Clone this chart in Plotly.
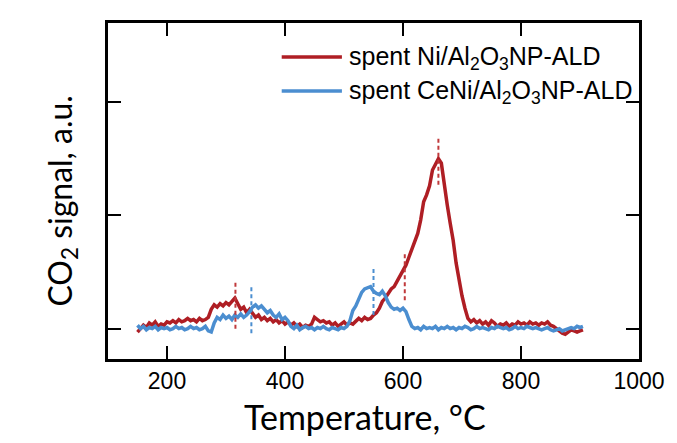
import plotly.graph_objects as go

temperature = list(range(150, 910, 5))

ni_signal = [
    -0.03, 0.00, 0.03, 0.01, 0.05, 0.03, 0.06, 0.02, 0.04, 0.03,
    0.06, 0.05, 0.07, 0.05, 0.08, 0.06, 0.07, 0.09, 0.07, 0.08,
    0.06, 0.09, 0.07, 0.08, 0.10, 0.17, 0.21, 0.19, 0.22, 0.20,
    0.23, 0.21, 0.24, 0.27, 0.22, 0.17, 0.19, 0.14, 0.17, 0.13,
    0.10, 0.12, 0.08, 0.10, 0.07, 0.09, 0.06, 0.08, 0.05, 0.07,
    0.04, 0.06, 0.03, 0.05, 0.02, 0.04, 0.01, 0.03, 0.02, 0.04,
    0.10, 0.08, 0.06, 0.07, 0.05, 0.06, 0.03, 0.05, 0.02, 0.04,
    0.06, 0.03, 0.05, 0.04, 0.07, 0.09, 0.07, 0.10, 0.08, 0.09,
    0.12, 0.14, 0.18, 0.24, 0.27, 0.31, 0.35, 0.37, 0.42, 0.46,
    0.51, 0.56, 0.63, 0.70, 0.76, 0.84, 0.96, 1.12, 1.18, 1.26,
    1.40, 1.45, 1.50, 1.46, 1.25, 1.09, 0.93, 0.78, 0.58, 0.41,
    0.29, 0.18, 0.09, 0.06, 0.08, 0.05, 0.07, 0.04, 0.06, 0.03,
    0.07, 0.05, 0.02, 0.04, 0.03, 0.05, 0.02, 0.04, 0.03, 0.06,
    0.04, 0.05, 0.03, 0.06, 0.04, 0.05, 0.03, 0.05, 0.04, 0.06,
    0.03, 0.02, 0.00, -0.02, -0.04, -0.05, -0.03, -0.01, -0.02, -0.03,
    -0.02, -0.01,
]

ceni_signal = [
    0.03, 0.00, 0.02, -0.01, 0.01, 0.00, 0.02, -0.01, 0.01, 0.00,
    0.01, -0.01, 0.00, 0.02, 0.00, 0.01, -0.01, 0.00, 0.02, 0.00,
    0.01, -0.01, 0.00, 0.02, -0.02, -0.03, 0.05, 0.10, 0.08, 0.12,
    0.09, 0.11, 0.08, 0.12, 0.10, 0.13, 0.10, 0.12, 0.15, 0.19,
    0.21, 0.18, 0.20, 0.17, 0.14, 0.16, 0.12, 0.10, 0.13, 0.08,
    0.10, 0.07, 0.02, 0.00, 0.03, -0.01, 0.01, 0.02, 0.00, 0.01,
    -0.01, 0.01, 0.00, 0.02, 0.00, -0.01, 0.01, 0.00, -0.01, 0.01,
    0.00, 0.02, 0.07, 0.16, 0.20, 0.26, 0.32, 0.35, 0.36, 0.37,
    0.33, 0.31, 0.30, 0.33, 0.29, 0.23, 0.19, 0.17, 0.18, 0.16,
    0.18, 0.15, 0.08, 0.02, 0.00, 0.01, -0.01, 0.02, 0.00, 0.01,
    0.00, 0.02, -0.01, 0.01, 0.00, 0.02, 0.00, 0.01, -0.01, 0.01,
    0.00, 0.02, 0.01, -0.01, 0.00, 0.02, 0.00, 0.01, 0.00, -0.01,
    0.01, 0.00, 0.02, 0.01, 0.00, 0.01, -0.01, 0.00, 0.02, 0.00,
    0.01, 0.00, 0.02, 0.01, 0.00, 0.01, 0.00, -0.01, 0.00, 0.01,
    -0.01, -0.02, -0.01, 0.00, -0.02, -0.01, 0.00, 0.01, 0.00, 0.02,
    0.01, 0.02,
]

# peak marker dashed lines: temperature, lower and upper signal
ni_peak_t = [316, 603, 660]
ni_peak_lo = [0.00, 0.25, 1.27]
ni_peak_hi = [0.43, 0.68, 1.69]
ceni_peak_t = [343, 550]
ceni_peak_lo = [-0.04, 0.12]
ceni_peak_hi = [0.37, 0.55]

x_ticks = [200, 400, 600, 800, 1000]
y_ticks = [0, 1, 2]

series_names = ["spent Ni/Al<sub>2</sub>O<sub>3</sub>NP-ALD",
                "spent CeNi/Al<sub>2</sub>O<sub>3</sub>NP-ALD"]
x_title = "Temperature, °C"
y_title = "CO<sub>2</sub> signal, a.u."

RED = "#AF1E24"
BLUE = "#4B8ED0"
colors = [RED, BLUE]

# plot area in pixels
W, H = 677, 443
L, R, T, B = 108, 31, 23, 84
PW, PH = W - L - R, H - T - B


def px_x(p):
    return (p - L) / PW


def px_y(p):
    return (H - B - p) / PH


fig = go.Figure()
for name, vals, col in zip(series_names, [ni_signal, ceni_signal], colors):
    fig.add_trace(go.Scatter(x=temperature, y=vals, mode="lines",
                             line=dict(color=col, width=3.5), name=name))

for t, lo, hi in zip(ni_peak_t, ni_peak_lo, ni_peak_hi):
    fig.add_trace(go.Scatter(x=[t, t], y=[lo, hi], mode="lines",
                             line=dict(color="#C0393B", width=2, dash="4px,3px"),
                             showlegend=False, hoverinfo="skip"))
for t, lo, hi in zip(ceni_peak_t, ceni_peak_lo, ceni_peak_hi):
    fig.add_trace(go.Scatter(x=[t, t], y=[lo, hi], mode="lines",
                             line=dict(color=BLUE, width=2, dash="4px,3px"),
                             showlegend=False, hoverinfo="skip"))

# legend drawn as line samples + labels
legend_rows_px = [57, 91]
shapes = []
annotations = []
for name, col, yp in zip(series_names, colors, legend_rows_px):
    shapes.append(dict(type="line", xref="paper", yref="paper",
                       x0=px_x(284), x1=px_x(345), y0=px_y(yp), y1=px_y(yp),
                       line=dict(color=col, width=3.5)))
    annotations.append(dict(text=name, xref="paper", yref="paper",
                            x=px_x(350), y=px_y(yp + 1), xanchor="left", yanchor="middle",
                            showarrow=False,
                            font=dict(family="Liberation Sans, Arial", size=25, color="black")))

annotations.append(dict(text=x_title, xref="paper", yref="paper",
                        x=px_x(368), y=px_y(416), xanchor="center", yanchor="middle",
                        showarrow=False,
                        font=dict(family="Lato", size=34, color="black")))
annotations.append(dict(text=y_title, xref="paper", yref="paper", textangle=-90,
                        x=px_x(61), y=px_y(201), xanchor="center", yanchor="middle",
                        showarrow=False,
                        font=dict(family="Lato", size=32, color="black")))

axis_common = dict(showline=True, linecolor="black", linewidth=2.5, mirror="ticks",
                   ticks="inside", ticklen=13, tickwidth=2, tickcolor="black",
                   showgrid=False, zeroline=False)

fig.update_layout(
    width=W, height=H,
    margin=dict(l=L, r=R, t=T, b=B),
    paper_bgcolor="white", plot_bgcolor="white",
    showlegend=False,
    shapes=shapes,
    annotations=annotations,
    xaxis=dict(range=[100, 1000], tickvals=x_ticks,
               tickfont=dict(family="Liberation Sans, Arial", size=23, color="black"),
               **axis_common),
    yaxis=dict(range=[-0.268, 2.697], tickvals=y_ticks, showticklabels=False,
               **axis_common),
)

fig.write_html("out.html")
